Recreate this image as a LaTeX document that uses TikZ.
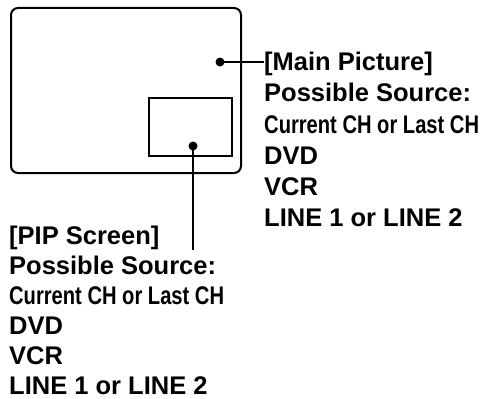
\documentclass[tikz,border=0pt]{standalone}
\usepackage{fontspec}
\setmainfont{Liberation Sans}
\usepackage{graphicx}
\begin{document}
\begin{tikzpicture}[x=1pt,y=-1pt,
  lbl/.style={anchor=base west, inner sep=0pt, font=\bfseries\fontsize{25.5}{25.5}\selectfont},
  dotn/.style={circle, fill=black, inner sep=0pt, minimum size=9pt},
  lead/.style={line width=1.7pt},
  frame/.style={line width=2pt}]
\useasboundingbox (0,0) rectangle (494,398);
% screens
\draw[frame, rounded corners=7pt] (11,8) rectangle (241,173);
\draw[line width=1.8pt] (149,98) rectangle (232,156);
% dots
\node[dotn] (maindot) at (220,62) {};
\node[dotn] (pipdot) at (193,146) {};
% right text block
\node[lbl] (maintitle) at (264,71) {[Main Picture]};
\node[lbl] (mainps) at (264,102) {Possible Source:};
\node[lbl] (maincur) at (264,133) {\scalebox{0.79}[1]{Current CH or Last CH}};
\node[lbl] (maindvd) at (264,164) {DVD};
\node[lbl] (mainvcr) at (264,195) {VCR};
\node[lbl] (mainline) at (264,226) {LINE 1 or LINE 2};
% left text block
\node[lbl] (piptitle) at (9,244) {[PIP Screen]};
\node[lbl] (pipps) at (9,274) {Possible Source:};
\node[lbl] (pipcur) at (9,304) {\scalebox{0.79}[1]{Current CH or Last CH}};
\node[lbl] (pipdvd) at (9,334) {DVD};
\node[lbl] (pipvcr) at (9,364) {VCR};
\node[lbl] (pipline) at (9,394) {LINE 1 or LINE 2};
% leaders
\coordinate (pipend) at (193,250);
\draw[lead] (maindot.center) -- (maintitle.west |- maindot.center);
\draw[lead] (pipdot.center) -- (pipend);
\end{tikzpicture}
\end{document}
